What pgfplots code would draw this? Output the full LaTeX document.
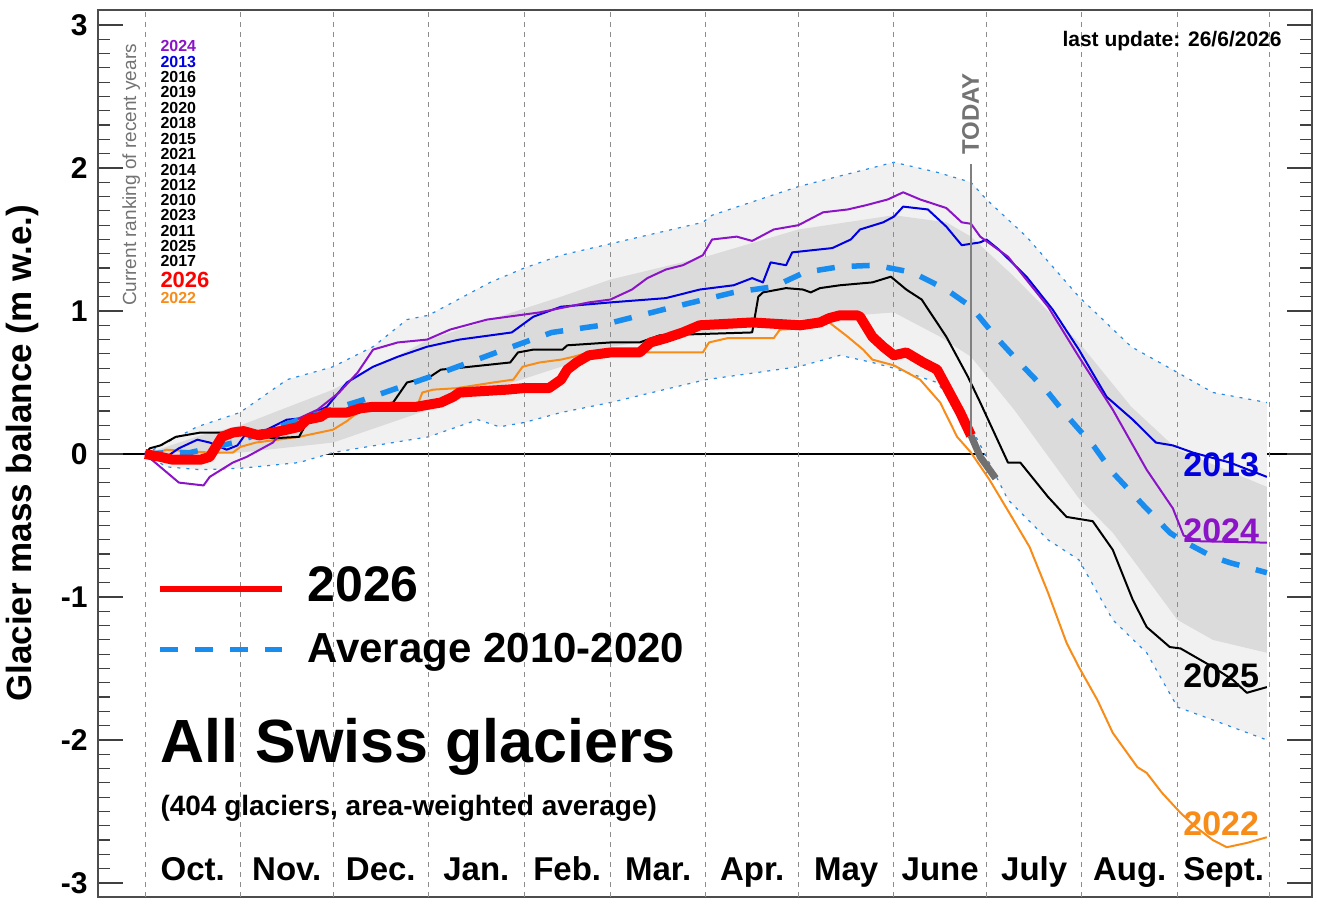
\documentclass[border=0pt]{standalone}
\usepackage{pgfplots}
\pgfplotsset{compat=1.18}
\usepgfplotslibrary{fillbetween}
\usepackage{fontspec}
\setmainfont{Liberation Sans}

\definecolor{mbRed}{RGB}{255,0,0}
\definecolor{mbPurple}{RGB}{140,20,200}
\definecolor{mbBlue}{RGB}{0,0,225}
\definecolor{mbOrange}{RGB}{248,140,25}
\definecolor{mbAvg}{RGB}{25,140,240}
\definecolor{mbDot}{RGB}{40,140,230}
\definecolor{bandOuter}{RGB}{241,241,241}
\definecolor{bandInner}{RGB}{219,219,219}
\definecolor{todayGray}{RGB}{112,112,112}
\newcommand\fs[1]{\fontsize{#1}{#1}\selectfont}

% x: days since 1 October, y: cumulative mass balance (m w.e.)
\pgfplotstableread{
d v
0 0
16.9 0.19
30.8 0.29
46.1 0.52
61 0.61
74 0.75
85 0.94
92 0.97
112 1.20
123 1.30
135 1.39
151 1.47
181 1.62
184 1.67
212 1.87
243 2.04
257 1.97
268 1.90
273 1.78
286 1.52
303 1.10
320 0.75
335 0.57
346.5 0.43
364 0.36
}\outerU
\pgfplotstableread{
d v
0 0
7 -0.09
18 -0.11
31 -0.10
50 -0.06
61 0.01
72 0.05
92 0.12
108 0.24
115 0.19
123 0.22
135 0.29
151 0.36
182 0.52
212 0.61
225.5 0.69
236 0.64
243 0.60
257 0.50
268 0.19
280 -0.32
293 -0.60
303 -0.74
314 -1.16
325 -1.39
335 -1.77
346.5 -1.86
364 -2.00
}\outerL
\pgfplotstableread{
d v
0 0
18 0.13
31 0.20
61 0.45
92 0.80
135 1.10
151 1.22
182 1.38
212 1.57
243 1.67
260 1.62
268 1.52
282 1.24
303 0.78
320 0.33
335 0.03
364 -0.23
}\innerU
\pgfplotstableread{
d v
0 0
18 0
31 0.01
61 0.08
92 0.31
135 0.61
151 0.75
182 0.85
212 0.94
243 0.99
258 0.82
268 0.68
282 0.31
303 -0.31
314 -0.55
335 -1.16
346.5 -1.30
364 -1.39
}\innerL

\begin{document}
\begin{tikzpicture}
\begin{axis}[
  set layers,
  scale only axis, width=607pt, height=443.5pt,
  at={(49pt,4pt)}, anchor=south west,
  xmin=-15.25, xmax=378.65, ymin=-3.098, ymax=3.105,
  xtick=\empty,
  ytick={-3,-2,-1,0,1,2,3}, yticklabels={-3,-2,-1,0,1,2,3},
  minor y tick num=9,
  ytick pos=both,
  tick align=inside,
  major tick length=12.5pt, minor tick length=6pt,
  every tick/.style={black!75, line width=0.6pt},
  axis line style={black!70, line width=0.8pt},
  yticklabel style={font=\bfseries\fs{15}, inner sep=0pt, xshift=-5pt},
  ylabel={Glacier mass balance (m w.e.)},
  every axis y label/.style={at={(axis description cs:0,0.5)}, xshift=-38pt, rotate=90, anchor=center, font=\bfseries\fs{17.5}},
  extra y ticks={0}, extra y tick labels={},
  extra y tick style={grid=major, major grid style={black, line width=0.9pt}, major tick length=0pt},
]

% envelope of past years (min/max) and the 2010-2020 spread
\addplot[name path=oU, mbDot, line width=0.6pt, dash pattern=on 1.5pt off 3pt] table {\outerU};
\addplot[name path=oL, mbDot, line width=0.6pt, dash pattern=on 1.5pt off 3pt] table {\outerL};
\addplot[fill=bandOuter, draw=none] fill between[of=oU and oL];
\addplot[name path=iU, draw=none] table {\innerU};
\addplot[name path=iL, draw=none] table {\innerL};
\addplot[fill=bandInner, draw=none] fill between[of=iU and iL];

% month boundaries
\pgfplotsinvokeforeach{0,31,61,92,123,151,182,212,243,273,304,335,365}{
  \draw[black!45, line width=0.5pt, dash pattern=on 2.5pt off 2.5pt] (axis cs:#1,-3.098) -- (axis cs:#1,3.105);
}

% 2022
\addplot[mbOrange, line width=1pt, line join=round] table {
0 0
4 0.01
7 0.03
21 0.01
28.5 0.01
31 0.05
36 0.08
50 0.12
61 0.17
65.5 0.23
69 0.29
74 0.31
88 0.32
90 0.43
93.5 0.45
101 0.46
113 0.50
119.5 0.52
122.5 0.61
128 0.64
135 0.66
139 0.68
144 0.71
151 0.71
181 0.71
183 0.78
189 0.81
204 0.81
206 0.87
215 0.88
222 0.92
228 0.82
233 0.73
236 0.66
243 0.62
251.5 0.52
258 0.36
263.5 0.12
268 0.01
274 -0.18
281.5 -0.45
287 -0.65
293 -0.97
299 -1.32
303 -1.49
309 -1.72
314 -1.95
322 -2.19
325 -2.23
330 -2.37
336 -2.51
341 -2.61
346.5 -2.70
351 -2.75
357.5 -2.72
364 -2.68
};

% 2025
\addplot[black, line width=1pt, line join=round] table {
0 0
1.6 0.04
5 0.06
10 0.12
18 0.15
32 0.15
41.5 0.11
50 0.12
52.5 0.22
59 0.26
69 0.32
80.5 0.36
85 0.50
92.5 0.54
96 0.59
101 0.60
118.5 0.64
121 0.71
126 0.73
135.5 0.73
137 0.76
151 0.78
160.5 0.78
167 0.83
197 0.85
199 1.10
200.5 1.13
208 1.16
213.5 1.15
216 1.13
219 1.16
225.5 1.18
236 1.20
242 1.24
247 1.15
252 1.08
260 0.82
267 0.54
271 0.36
280 -0.06
284 -0.06
293 -0.30
299 -0.44
307.5 -0.47
314 -0.67
320.5 -1.02
325 -1.21
332.5 -1.35
336 -1.36
346.5 -1.49
353 -1.58
357.5 -1.67
364 -1.63
};

% 2013
\addplot[mbBlue, line width=1pt, line join=round] table {
0 0
7 -0.02
11 0.04
17 0.10
21 0.08
26.5 0.03
30 0.06
33 0.15
39.5 0.17
46 0.24
51 0.25
59 0.33
65.5 0.50
74 0.61
82 0.68
91.5 0.75
102 0.80
119 0.85
126 0.96
135 1.03
151 1.06
169 1.09
180 1.15
191 1.18
197 1.23
200.5 1.20
203 1.34
208 1.32
210 1.41
223 1.44
229 1.50
232 1.57
239.5 1.62
243 1.66
246 1.73
254 1.71
260 1.59
265 1.46
271 1.48
273 1.50
277 1.43
286 1.24
294.5 1.01
303 0.73
312 0.40
320.5 0.24
328 0.08
333.5 0.06
340 0.01
352 -0.06
364 -0.16
};

% 2024
\addplot[mbPurple, line width=1pt, line join=round] table {
0 0
11 -0.20
19 -0.22
21 -0.16
28.5 -0.06
33 -0.02
41.5 0.08
47 0.22
56 0.31
63 0.43
69 0.57
74 0.73
82 0.78
91.5 0.80
99 0.87
111 0.94
128 0.99
144 1.06
151 1.08
158 1.15
163 1.23
169 1.29
174.5 1.32
181 1.39
184 1.50
192 1.52
197 1.49
204 1.57
212 1.60
220 1.69
228 1.71
234 1.74
241 1.78
246 1.83
251.5 1.78
260 1.72
265 1.62
268 1.61
271 1.52
280 1.38
293 1.03
303 0.68
314 0.31
325 -0.11
333.5 -0.38
337 -0.57
342 -0.61
364 -0.62
};

% mean 2010-2020
\addplot[mbAvg, line width=2.75pt, dash pattern=on 9pt off 8.5pt] table {
0 0
8 0.01
14.6 0.01
29 0.08
50 0.24
71 0.38
92.5 0.54
114 0.71
132 0.85
148 0.90
170 1.02
191 1.13
204 1.17
214 1.27
225.5 1.31
237 1.32
249 1.27
260 1.15
268 1.03
276 0.82
285 0.61
293 0.43
299 0.27
308 0.05
314 -0.13
324 -0.36
332.5 -0.55
336 -0.60
346.5 -0.72
352 -0.76
364 -0.83
};

% 2026 up to today
\addplot[mbRed, line width=5pt, line join=round] table {
0 0
5 -0.02
9 -0.04
18 -0.04
21 -0.02
23 0.05
25 0.12
28.5 0.15
32 0.16
37 0.13
41.5 0.15
46 0.17
50 0.19
52.5 0.24
57 0.26
59 0.29
65.5 0.29
70 0.32
74 0.33
88 0.33
96 0.36
100 0.40
102 0.43
117.5 0.45
122.5 0.46
128 0.46
131 0.46
135 0.52
137 0.59
140 0.64
144 0.69
151 0.71
160.5 0.71
164 0.78
169 0.81
174.5 0.85
180 0.90
197 0.92
212.5 0.90
219 0.92
222 0.95
225.5 0.97
231 0.97
232 0.96
236 0.82
239.5 0.75
243 0.69
247 0.71
252.5 0.64
257 0.59
261 0.43
264.5 0.29
268 0.13
};
% 2026 forecast
\addplot[todayGray, line width=3.5pt] table {
268 0.13
271 -0.02
276 -0.17
};

% today marker
\draw[black!50, line width=0.75pt] (axis cs:268,0.13) -- (axis cs:268,2.03);
\node[rotate=90, anchor=west, inner sep=0pt, text=black!55, font=\bfseries\fs{12}] at (axis cs:267.9,2.09) {TODAY};
\node[anchor=base east, inner sep=0pt, font=\bfseries\fs{10.5}] at (axis cs:368.9,2.853) {last update: 26/6/2026};

% ranking
\node[rotate=90, inner sep=0pt, text=black!55, font=\fs{9.5}] at (axis cs:-4.5,1.951) {Current ranking of recent years};
\begin{scope}[every node/.style={anchor=base west, inner sep=0pt, font=\bfseries\fs{8}}]
\node[text=mbPurple] at (axis cs:4.9,2.815) {2024};
\node[text=mbBlue] at (axis cs:4.9,2.703) {2013};
\node at (axis cs:4.9,2.598) {2016};
\node at (axis cs:4.9,2.493) {2019};
\node at (axis cs:4.9,2.381) {2020};
\node at (axis cs:4.9,2.276) {2018};
\node at (axis cs:4.9,2.164) {2015};
\node at (axis cs:4.9,2.059) {2021};
\node at (axis cs:4.9,1.948) {2014};
\node at (axis cs:4.9,1.843) {2012};
\node at (axis cs:4.9,1.738) {2010};
\node at (axis cs:4.9,1.633) {2023};
\node at (axis cs:4.9,1.521) {2011};
\node at (axis cs:4.9,1.416) {2025};
\node at (axis cs:4.9,1.311) {2017};
\node[text=mbRed, font=\bfseries\fs{11}] at (axis cs:4.9,1.161) {2026};
\node[text=mbOrange] at (axis cs:4.9,1.052) {2022};
\end{scope}

% year labels at season end
\begin{scope}[every node/.style={anchor=base west, inner sep=0pt, font=\bfseries\fs{17}}]
\node[text=mbBlue] at (axis cs:336.8,-0.16) {2013};
\node[text=mbPurple] at (axis cs:336.8,-0.62) {2024};
\node[text=black] at (axis cs:336.8,-1.63) {2025};
\node[text=mbOrange] at (axis cs:336.8,-2.67) {2022};
\end{scope}

% legend
\draw[mbRed, line width=3pt] (axis cs:4.9,-0.944) -- (axis cs:44.5,-0.944);
\node[anchor=base west, inner sep=0pt, font=\bfseries\fs{25}] at (axis cs:52.6,-1.035) {2026};
\draw[mbAvg, line width=2.5pt, dash pattern=on 9pt off 8.5pt] (axis cs:4.9,-1.37) -- (axis cs:44.5,-1.37);
\node[anchor=base west, inner sep=0pt, font=\bfseries\fs{21}] at (axis cs:52.6,-1.455) {Average 2010-2020};
\node[anchor=base west, inner sep=0pt, font=\bfseries\fs{30.5}] at (axis cs:4.9,-2.154) {All Swiss glaciers};
\node[anchor=base west, inner sep=0pt, font=\bfseries\fs{14}] at (axis cs:4.9,-2.531) {(404 glaciers, area-weighted average)};

% month names
\begin{scope}[every node/.style={anchor=base, inner sep=0pt, font=\bfseries\fs{16.5}}]
\node at (axis cs:15.5,-2.986) {Oct.};
\node at (axis cs:46,-2.986) {Nov.};
\node at (axis cs:76.5,-2.986) {Dec.};
\node at (axis cs:107.5,-2.986) {Jan.};
\node at (axis cs:137,-2.986) {Feb.};
\node at (axis cs:166.5,-2.986) {Mar.};
\node at (axis cs:197,-2.986) {Apr.};
\node at (axis cs:227.5,-2.986) {May};
\node at (axis cs:258,-2.986) {June};
\node at (axis cs:288.5,-2.986) {July};
\node at (axis cs:319.5,-2.986) {Aug.};
\node at (axis cs:350,-2.986) {Sept.};
\end{scope}
\end{axis}
\pgfresetboundingbox
\path[use as bounding box] (0,0) rectangle (658.5pt,452.5pt);
\end{tikzpicture}
\end{document}
